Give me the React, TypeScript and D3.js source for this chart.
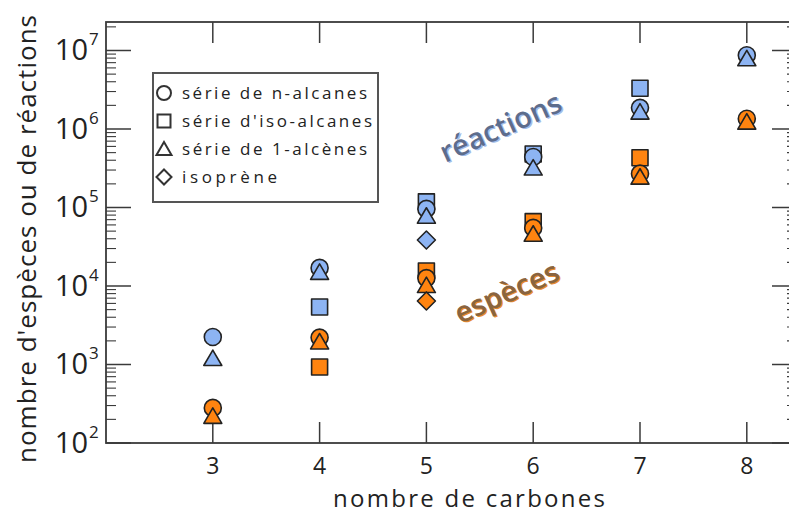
import React from "react";
import * as d3 from "d3";

const carbons = [3, 4, 5, 6, 7, 8];
const xTickLabels = ["3", "4", "5", "6", "7", "8"];
const yExponents = [2, 3, 4, 5, 6, 7];

// espèces (orange)
const speciesAlkanes = [280, 2200, 12600, 55000, 270000, 1350000]; // C3..C8
const speciesIsoCarbons = [4, 5, 6, 7];
const speciesIso = [930, 15500, 66000, 430000];
const speciesAlkenes = [220, 1950, 10200, 46000, 245000, 1230000];
const speciesIsoprene = [6450]; // C5

// réactions (bleu)
const reactAlkanes = [2240, 17000, 96000, 440000, 1860000, 8700000];
const reactIsoCarbons = [4, 5, 6, 7];
const reactIso = [5400, 118000, 480000, 3300000];
const reactAlkenes = [1200, 15000, 78000, 320000, 1650000, 7900000];
const reactIsoprene = [38500];

const legendLabels = ["série de n-alcanes", "série d'iso-alcanes", "série de 1-alcènes", "isoprène"];
const legendShapes = ["circle", "square", "triangle", "diamond"];
const legendWidths = [185, 190, 185, 95];

const BLUE = "#8db4f3";
const ORANGE = "#ff8410";
const STROKE = "#222";
const FONT = "'Open Sans', 'Noto Sans', sans-serif";

function shapePath(shape: string, s: number): string {
  if (shape === "circle") {
    const r = s / 2;
    return `M${-r},0A${r},${r} 0 1,0 ${r},0A${r},${r} 0 1,0 ${-r},0Z`;
  }
  if (shape === "square") {
    const h = s / 2 - 0.5;
    return `M${-h},${-h}H${h}V${h}H${-h}Z`;
  }
  if (shape === "triangle") {
    const w = s / 2 + 0.5;
    const h = s * 0.85;
    return `M0,${-h / 2 - 1}L${w},${h / 2}L${-w},${h / 2}Z`;
  }
  const d = s / 2 + 0.5;
  return `M0,${-d}L${d},0L0,${d}L${-d},0Z`;
}

export default function App() {
  const W = 789, H = 513;
  const left = 106, right = 797, top = 22, bottom = 443;
  const x = d3.scaleLinear().domain([2, 8.47]).range([left, right]);
  const y = d3.scaleLog().domain([100, Math.pow(10, 7.363)]).range([bottom, top]);

  const minor: number[] = [];
  for (let e = 2; e <= 7; e++) {
    for (let m = 2; m <= 9; m++) {
      const v = m * Math.pow(10, e);
      if (v < Math.pow(10, 7.363)) minor.push(v);
    }
  }

  type Pt = { cx: number; v: number; shape: string; fill: string };
  const pts: Pt[] = [];
  const add = (xs: number[], vs: number[], shape: string, fill: string) =>
    vs.forEach((v, i) => pts.push({ cx: xs[i], v, shape, fill }));
  // draw order: squares, circles, triangles, diamonds
  add(reactIsoCarbons, reactIso, "square", BLUE);
  add(speciesIsoCarbons, speciesIso, "square", ORANGE);
  add(carbons, reactAlkanes, "circle", BLUE);
  add(carbons, speciesAlkanes, "circle", ORANGE);
  add(carbons, reactAlkenes, "triangle", BLUE);
  add(carbons, speciesAlkenes, "triangle", ORANGE);
  add([5], reactIsoprene, "diamond", BLUE);
  add([5], speciesIsoprene, "diamond", ORANGE);

  const axisColor = "#3a3a3a";

  return (
    <svg width={W} height={H} style={{ position: "absolute", left: 0, top: 0, background: "#fff" }} fontFamily={FONT}>
      {/* frame */}
      <rect x={left} y={top} width={right - left} height={bottom - top} fill="none" stroke={axisColor} strokeWidth={1.8} />
      {/* x ticks top & bottom */}
      {carbons.map((c) => (
        <g key={"xt" + c}>
          <line x1={x(c)} x2={x(c)} y1={bottom} y2={bottom - 21} stroke={axisColor} strokeWidth={1.5} />
          <line x1={x(c)} x2={x(c)} y1={top} y2={top + 21} stroke={axisColor} strokeWidth={1.5} />
        </g>
      ))}
      {/* y major ticks */}
      {yExponents.map((e) => (
        <g key={"ym" + e}>
          <line x1={left} x2={left + 25} y1={y(Math.pow(10, e))} y2={y(Math.pow(10, e))} stroke={axisColor} strokeWidth={1.5} />
          <line x1={right} x2={right - 25} y1={y(Math.pow(10, e))} y2={y(Math.pow(10, e))} stroke={axisColor} strokeWidth={1.5} />
        </g>
      ))}
      {minor.map((v, i) => (
        <g key={"yn" + i}>
          <line x1={left} x2={left + 10} y1={y(v)} y2={y(v)} stroke={axisColor} strokeWidth={1.1} />
          <line x1={right} x2={right - 10} y1={y(v)} y2={y(v)} stroke={axisColor} strokeWidth={1.1} />
        </g>
      ))}
      {/* x tick labels */}
      {carbons.map((c, i) => (
        <text key={"xl" + c} x={x(c)} y={474} textAnchor="middle" fontSize={23} fill="#222">
          {xTickLabels[i]}
        </text>
      ))}
      {/* y tick labels */}
      {yExponents.map((e) => (
        <text key={"yl" + e} x={88} y={y(Math.pow(10, e)) + 10} textAnchor="end" fontSize={29} fill="#222">
          10
          <tspan x={89} dy={-15} fontSize={17} textAnchor="start">{e}</tspan>
        </text>
      ))}
      {/* axis titles */}
      <text x={469} y={507} textAnchor="middle" fontSize={24} fill="#222" textLength={272} lengthAdjust="spacing">nombre de carbones</text>
      <text transform="translate(36,239) rotate(-90)" textAnchor="middle" fontSize={26} fill="#222" textLength={448} lengthAdjust="spacing">
        nombre d'espèces ou de réactions
      </text>

      {/* annotations */}
      <g transform="translate(500,126) rotate(-24)">
        <text x={1} y={1.5} textAnchor="middle" dominantBaseline="central" fontSize={29} fontWeight={600} fill="#a3bdea">réactions</text>
        <text x={0} y={0} textAnchor="middle" dominantBaseline="central" fontSize={29} fontWeight={600} fill="#5d6d8c">réactions</text>
      </g>
      <g transform="translate(506,291) rotate(-24)">
        <text x={1} y={1.5} textAnchor="middle" dominantBaseline="central" fontSize={29} fontWeight={600} fill="#e88a30">espèces</text>
        <text x={0} y={0} textAnchor="middle" dominantBaseline="central" fontSize={29} fontWeight={600} fill="#8a6440">espèces</text>
      </g>

      {/* data markers */}
      {pts.map((p, i) => (
        <path
          key={"p" + i}
          transform={`translate(${x(p.cx)},${y(p.v)})`}
          d={shapePath(p.shape, 17)}
          fill={p.fill}
          stroke={STROKE}
          strokeWidth={1.6}
          strokeLinejoin="round"
        />
      ))}

      {/* legend */}
      <rect x={153} y={73} width={225} height={129} fill="#fff" stroke="#555" strokeWidth={2} />
      {legendLabels.map((l, i) => (
        <g key={"lg" + i} transform={`translate(0,${93 + i * 28})`}>
          <path transform="translate(164,0)" d={shapePath(legendShapes[i], 14)} fill="#fff" stroke="#333" strokeWidth={2} />
          <text x={182} y={6} fontSize={17} fill="#222" textLength={legendWidths[i]} lengthAdjust="spacing">{l}</text>
        </g>
      ))}
    </svg>
  );
}
